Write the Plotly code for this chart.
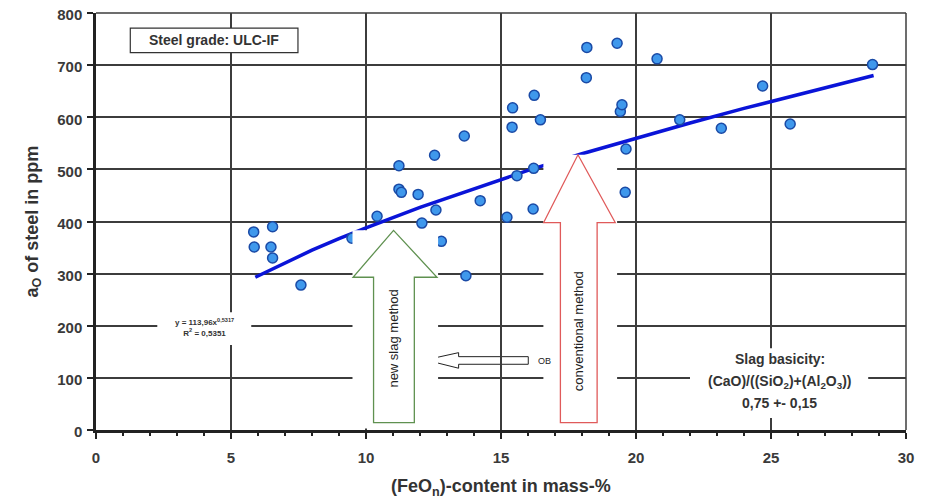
import plotly.graph_objects as go

# ---- data ----
feo = [5.84, 5.86, 6.54, 6.48, 6.54, 7.59, 9.48, 10.41, 11.22, 11.22, 11.31, 11.93,
       12.07, 12.59, 12.54, 12.79, 13.64, 13.70, 14.23, 15.22, 15.59, 16.19, 16.21,
       15.41, 15.43, 16.23, 16.46, 18.16, 18.18, 19.30, 19.42, 19.48, 19.63, 19.60,
       20.78, 21.62, 23.16, 24.69, 25.71, 28.76]
ao = [380, 351, 390, 351, 330, 278, 368, 410, 507, 462, 456, 452,
      397, 422, 527, 362, 564, 296, 440, 408, 488, 424, 502,
      581, 618, 642, 595, 676, 734, 742, 611, 624, 539, 456,
      712, 595, 579, 660, 587, 701]

trend_x = [5.9, 7, 8, 9, 10, 12, 14, 16, 18, 20, 22, 24, 26, 28.8]
trend_y = [293, 321, 345, 367, 388, 427, 463, 498, 530, 560, 589, 617, 643, 680]

x_ticks = [0, 5, 10, 15, 20, 25, 30]
y_ticks = [0, 100, 200, 300, 400, 500, 600, 700, 800]

FONT = "Arial, Liberation Sans, sans-serif"
GRID = "#3c3c3c"

fig = go.Figure()
fig.add_trace(go.Scatter(x=trend_x, y=trend_y, mode="lines",
                         line=dict(color="#0a14d8", width=3.5), hoverinfo="skip",
                         showlegend=False))
fig.add_trace(go.Scatter(x=feo, y=ao, mode="markers",
                         marker=dict(size=10, color="#3f98ec",
                                     line=dict(color="#1a4aa6", width=1.5)),
                         showlegend=False))

shapes = []
# horizontal small arrow (under gridlines)
shapes.append(dict(type="path", xref="x", yref="y", layer="below",
                   path="M 16.01,140.7 L 13.43,140.7 L 13.43,148.4 L 12.2,134.4 L 13.43,118.5 L 13.43,126.1 L 16.01,126.1 Z",
                   fillcolor="white", line=dict(color="#222222", width=1)))
# white boxes covering grid / traces
for (x0, x1, y0, y1) in [(9.5, 12.67, 3, 383), (16.57, 19.3, 3, 528),
                         (2.27, 5.75, 163, 226), (22.0, 28.6, 23, 157)]:
    shapes.append(dict(type="rect", xref="x", yref="y", x0=x0, x1=x1, y0=y0, y1=y1,
                       fillcolor="white", line=dict(width=0), layer="above"))
# green arrow
shapes.append(dict(type="path", xref="x", yref="y", layer="above",
                   path="M 10.28,14 L 10.28,293 L 9.52,293 L 11.02,383 L 12.63,293 L 11.79,293 L 11.79,14 Z",
                   fillcolor="white", line=dict(color="#5f9150", width=1.3)))
# red arrow
shapes.append(dict(type="path", xref="x", yref="y", layer="above",
                   path="M 17.2,14 L 17.2,398 L 16.58,398 L 17.85,528 L 19.23,398 L 18.56,398 L 18.56,14 Z",
                   fillcolor="white", line=dict(color="#e05a5a", width=1.3)))
# top and right frame
shapes.append(dict(type="line", xref="paper", yref="paper", x0=0, x1=1, y0=1, y1=1,
                   line=dict(color=GRID, width=1.5)))
shapes.append(dict(type="line", xref="paper", yref="paper", x0=1, x1=1, y0=0, y1=1,
                   line=dict(color=GRID, width=1.5)))
# steel grade box
shapes.append(dict(type="rect", xref="x", yref="y", x0=1.27, x1=7.48, y0=724, y1=771,
                   fillcolor="white", line=dict(color="#333333", width=1.2), layer="above"))

annotations = [
    dict(x=4.38, y=747.5, xref="x", yref="y", text="<b>Steel grade: ULC-IF</b>",
         showarrow=False, font=dict(family=FONT, size=14, color="#333333")),
    dict(x=4.0, y=196, xref="x", yref="y",
         text="<b>y = 113,96x<sup>0,5317</sup><br>R<sup>2</sup> = 0,5351</b>",
         showarrow=False, font=dict(family=FONT, size=8, color="#333333")),
    dict(x=25.32, y=137, xref="x", yref="y", text="<b>Slag basicity:</b>",
         showarrow=False, font=dict(family=FONT, size=14, color="#333333")),
    dict(x=25.32, y=93, xref="x", yref="y",
         text="<b>(CaO)/((SiO<sub>2</sub>)+(Al<sub>2</sub>O<sub>3</sub>))</b>",
         showarrow=False, font=dict(family=FONT, size=14, color="#333333")),
    dict(x=25.32, y=52, xref="x", yref="y", text="<b>0,75 +- 0,15</b>",
         showarrow=False, font=dict(family=FONT, size=14, color="#333333")),
    dict(x=11.03, y=175, xref="x", yref="y", text="new slag method", textangle=-90,
         showarrow=False, font=dict(family=FONT, size=13, color="#222222")),
    dict(x=17.88, y=189, xref="x", yref="y", text="conventional method", textangle=-90,
         showarrow=False, font=dict(family=FONT, size=13, color="#222222")),
    dict(x=16.6, y=133, xref="x", yref="y", text="OB",
         showarrow=False, font=dict(family=FONT, size=9, color="#222222")),
    # axis titles
    dict(x=0.5, y=0, xref="paper", yref="paper", yshift=-57,
         xanchor="center", yanchor="middle",
         text="<b>(FeO<sub>n</sub>)-content in mass-%</b>", showarrow=False,
         font=dict(family=FONT, size=18, color="#333333")),
    dict(x=0, y=0.5, xref="paper", yref="paper", xshift=-63,
         xanchor="center", yanchor="middle",
         text="<b>a<sub>O</sub> of steel in ppm</b>", textangle=-90, showarrow=False,
         font=dict(family=FONT, size=18, color="#333333")),
]

# page body has an 8px default margin: figure sized/offset to compensate
fig.update_layout(
    width=923, height=493,
    margin=dict(l=88, r=25, t=5, b=71, autoexpand=False),
    paper_bgcolor="white", plot_bgcolor="white",
    shapes=shapes, annotations=annotations,
    font=dict(family=FONT, color="#333333"),
    xaxis=dict(range=[0, 30], tickvals=x_ticks, ticktext=[str(v) for v in x_ticks],
               automargin=False, ticklabeloverflow="allow",
               showgrid=True, gridcolor=GRID, gridwidth=1.5, zeroline=False,
               showline=True, linecolor="#222222", linewidth=2.5,
               ticks="outside", ticklen=6, tickwidth=2, tickcolor="#222222",
               minor=dict(dtick=1, ticks="outside", ticklen=3, tickcolor="#222222",
                          showgrid=False),
               ticklabelstandoff=6,
               tickfont=dict(family=FONT, size=15, color="#3a3a3a", weight="bold")),
    yaxis=dict(range=[0, 800], tickvals=y_ticks, ticktext=[str(v) for v in y_ticks],
               automargin=False, ticklabeloverflow="allow", ticklabelshift=2,
               showgrid=True, gridcolor=GRID, gridwidth=1.5, zeroline=False,
               showline=True, linecolor="#222222", linewidth=2.5,
               ticks="outside", ticklen=6, tickwidth=2, tickcolor="#222222",
               ticklabelstandoff=2,
               tickfont=dict(family=FONT, size=15, color="#3a3a3a", weight="bold")),
)

fig.write_html("out.html")
